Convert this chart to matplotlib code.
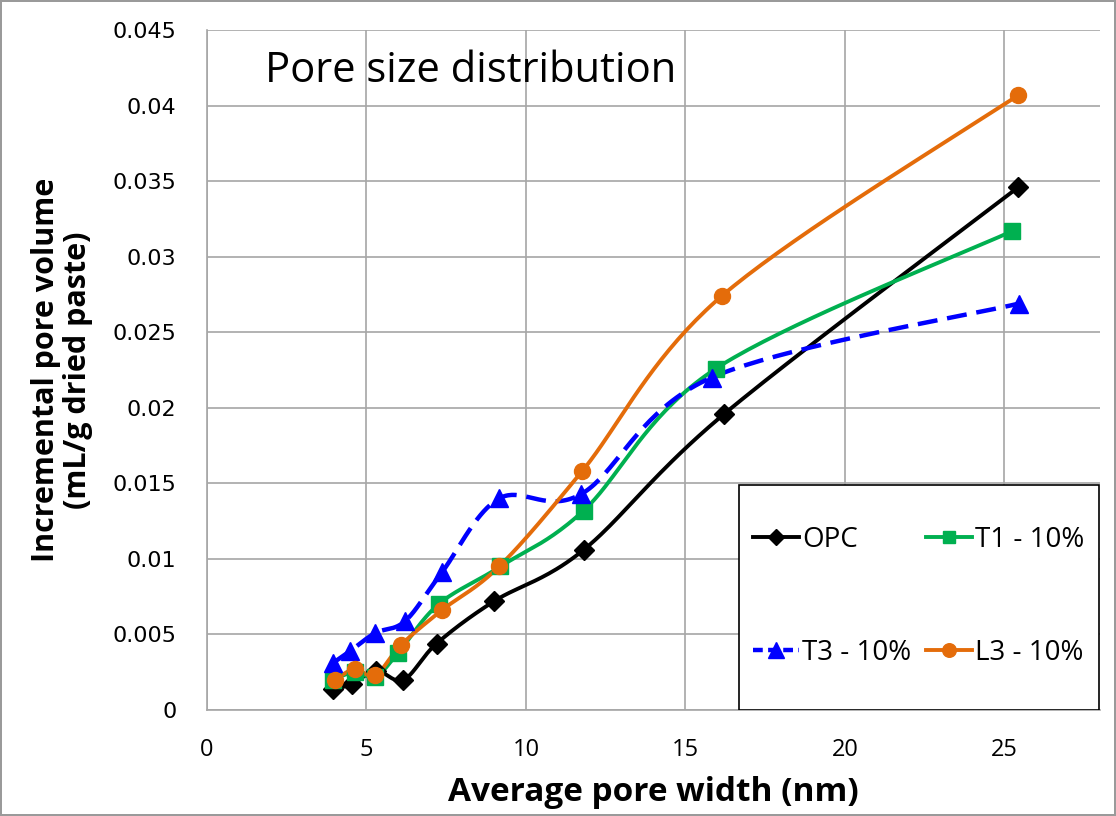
import numpy as np
import matplotlib.pyplot as plt
from matplotlib.lines import Line2D
from matplotlib.patches import Rectangle

# pore widths (nm) and incremental pore volumes (mL/g) per mix
opc_x = [3.94, 4.54, 5.30, 6.16, 7.20, 9.00, 11.81, 16.22, 25.44]
opc_y = [0.0014, 0.0017, 0.0026, 0.0020, 0.0044, 0.0072, 0.0106, 0.0196, 0.0346]

t1_x = [3.94, 4.63, 5.28, 6.00, 7.26, 9.20, 11.81, 15.96, 25.25]
t1_y = [0.0020, 0.0025, 0.0022, 0.0038, 0.0070, 0.0095, 0.0132, 0.0226, 0.0317]

t3_x = [3.94, 4.49, 5.28, 6.22, 7.36, 9.16, 11.74, 15.82, 25.46]
t3_y = [0.0031, 0.0039, 0.0051, 0.0059, 0.0091, 0.0140, 0.0143, 0.0220, 0.0269]

l3_x = [4.00, 4.63, 5.28, 6.08, 7.36, 9.16, 11.76, 16.14, 25.44]
l3_y = [0.0020, 0.0027, 0.0023, 0.0043, 0.0066, 0.0095, 0.0158, 0.0274, 0.0407]

labels = ['OPC', 'T1 - 10%', 'T3 - 10%', 'L3 - 10%']


def smooth(x, y, n=40):
    # Bezier smoothing with control points at 1/6 of the neighbour span
    pts = np.column_stack([x, y]).astype(float)
    out = []
    for i in range(len(pts) - 1):
        p0 = pts[i - 1] if i > 0 else pts[i]
        p1, p2 = pts[i], pts[i + 1]
        p3 = pts[i + 2] if i + 2 < len(pts) else pts[i + 1]
        c1 = p1 + (p2 - p0) / 6
        c2 = p2 - (p3 - p1) / 6
        t = np.linspace(0, 1, n)[:, None]
        seg = (1 - t)**3 * p1 + 3 * (1 - t)**2 * t * c1 + 3 * (1 - t) * t**2 * c2 + t**3 * p2
        out.append(seg if i == 0 else seg[1:])
    return np.vstack(out)


fig = plt.figure(figsize=(11.16, 8.16), dpi=100)
fig.patch.set_edgecolor('#9a9a9a')
fig.patch.set_linewidth(1.5)
ax = fig.add_axes([0.1855, 0.1299, 0.8002, 0.8333])

series = [
    (opc_x, opc_y, 'black', 'D', 10, '-'),
    (t1_x, t1_y, '#00B050', 's', 11, '-'),
    (t3_x, t3_y, '#0000FF', '^', 13, '--'),
    (l3_x, l3_y, '#E46C0A', 'o', 11.5, '-'),
]

handles = []
for (x, y, c, m, ms, ls), lab in zip(series, labels):
    curve = smooth(x, y)
    lw = 3.2 if ls == '--' else 2.8
    line, = ax.plot(curve[:, 0], curve[:, 1], color=c, lw=lw, ls=ls, zorder=3)
    if ls == '--':
        line.set_dashes((4.5, 2.2))
    ax.plot(x, y, ls='none', marker=m, ms=ms, color=c, zorder=4)
    h = Line2D([], [], color=c, lw=lw, ls=ls, marker=m, ms=ms * 0.85)
    if ls == '--':
        h.set_dashes((2.2, 1.2))
    handles.append(h)

ax.set_xlim(0, 28)
ax.set_ylim(0, 0.045)
ax.set_xticks([0, 5, 10, 15, 20, 25])
ax.set_yticks(np.arange(0, 0.0451, 0.005))
ax.set_yticklabels(['0', '0.005', '0.01', '0.015', '0.02', '0.025', '0.03', '0.035', '0.04', '0.045'])
ax.grid(True, color='#a6a6a6', lw=1.2)
ax.set_axisbelow(True)
for s in ['top', 'right']:
    ax.spines[s].set_visible(False)
for s in ['left', 'bottom']:
    ax.spines[s].set_color('#a6a6a6')
    ax.spines[s].set_linewidth(1.2)
ax.tick_params(length=0)
ax.tick_params(axis='x', pad=20)
ax.tick_params(axis='y', pad=22)
for lbl in ax.get_xticklabels():
    lbl.set_fontfamily('Open Sans')
    lbl.set_fontsize(17)
for lbl in ax.get_yticklabels():
    lbl.set_fontfamily('DejaVu Sans')
    lbl.set_fontsize(16)

ax.set_xlabel('Average pore width (nm)', fontsize=24, fontweight='bold',
              fontfamily='Open Sans', labelpad=10)
ax.set_ylabel('Incremental pore volume\n(mL/g dried paste)', fontsize=22,
              fontweight='bold', fontfamily='Open Sans', labelpad=14, linespacing=1.1)

ax.text(0.065, 0.94, 'Pore size distribution', transform=ax.transAxes,
        fontsize=30, fontfamily='Open Sans', va='center', ha='left')

# legend box drawn separately, entries centred inside it
ax.add_patch(Rectangle((0.5958, 0.0), 0.403, 0.331, transform=ax.transAxes,
                       facecolor='white', edgecolor='black', lw=1.2, zorder=5))
# legend fills column-wise, so order gives rows OPC/T1 and T3/L3
order = [0, 2, 1, 3]
leg = ax.legend([handles[i] for i in order], [labels[i] for i in order], ncol=2,
                loc='center', bbox_to_anchor=(0.797, 0.167), frameon=False,
                borderaxespad=0, borderpad=0,
                prop={'family': 'Open Sans', 'size': 20},
                handlelength=1.65, handletextpad=0.1, labelspacing=3.06,
                columnspacing=0.55)
leg.set_zorder(6)

fig.savefig('out.png', dpi=100)
